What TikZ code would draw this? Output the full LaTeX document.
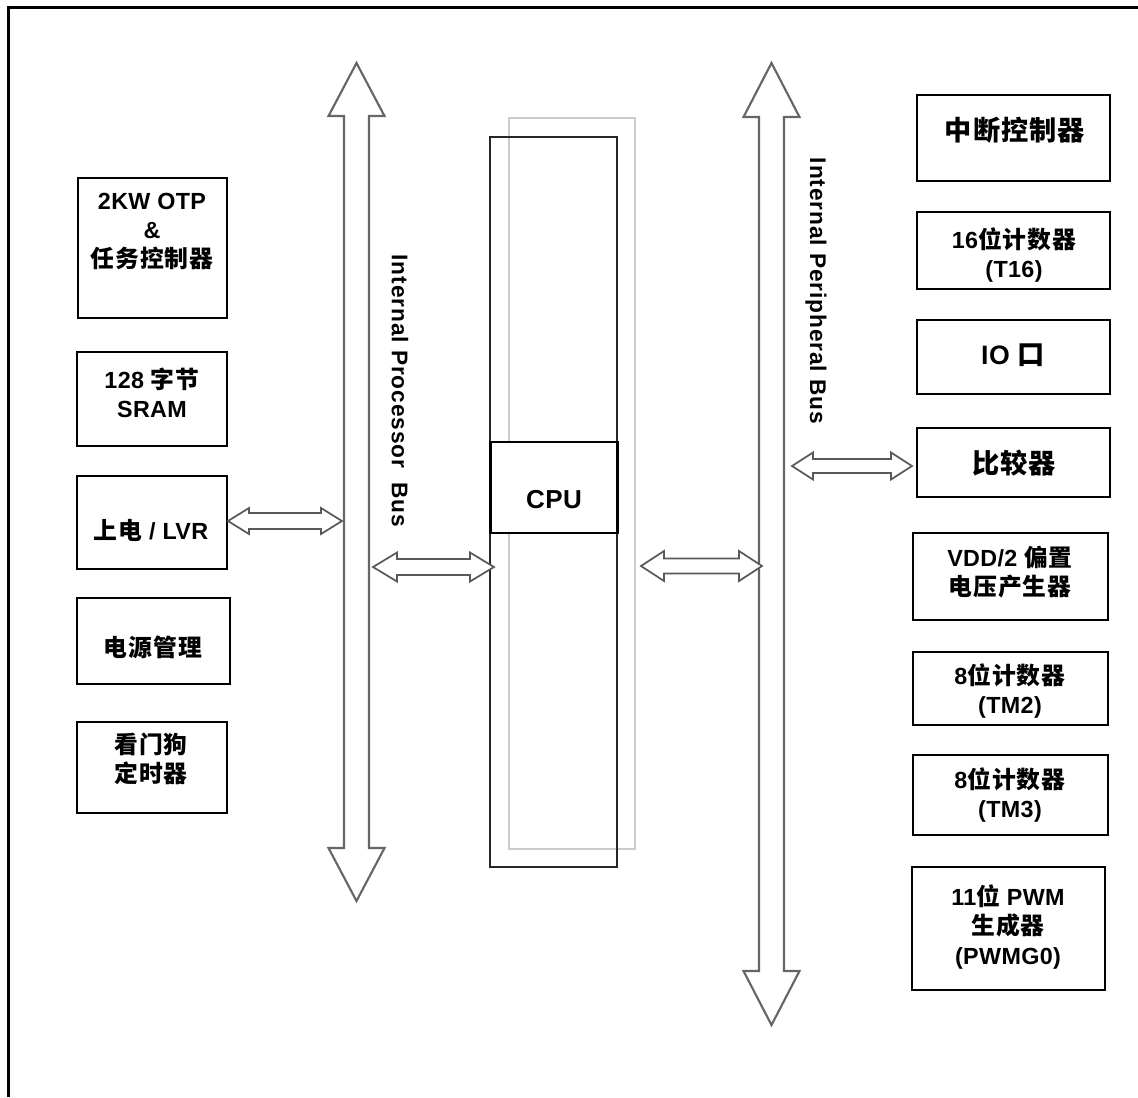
\documentclass[tikz,border=0pt]{standalone}
\usepackage{fontspec}
\setmainfont{Liberation Sans}[LetterSpace=1.5]
\newfontfamily\buslabelfont{Liberation Sans}[LetterSpace=4]
\newfontfamily\zhfont{Noto Sans CJK SC Bold}[Scale=1.02,LetterSpace=4]
\newcommand\zh[1]{{\zhfont #1}}
\begin{document}
\begin{tikzpicture}[x=0.75pt,y=-0.75pt,
  frame/.style={draw=black,line width=2pt},
  box/.style={draw=black,line width=2.2pt,fill=white,inner sep=0pt},
  txt/.style={align=center,inner sep=0pt,font=\fontsize{17.5pt}{22pt}\selectfont\bfseries},
  bigtxt/.style={align=center,inner sep=0pt,font=\fontsize{20pt}{22pt}\selectfont\bfseries},
  cputxt/.style={inner sep=0pt,font=\fontsize{19.5pt}{22pt}\selectfont\bfseries},
  buslabel/.style={rotate=-90,inner sep=0pt,font=\buslabelfont\fontsize{17pt}{18pt}\selectfont\bfseries},
  busline/.style={draw=black!60,line width=1.6pt,fill=white,line join=miter},
  darrow/.style={draw=black!65,line width=1.3pt,fill=white,line join=miter},
  cpuouter/.style={draw=black!85,line width=1.5pt},
  cpushadow/.style={draw=black!20,line width=1.5pt}]
\useasboundingbox (0,0) rectangle (1138,1097);
% outer frame (only top and left visible)
\draw[frame] (8.5,1097) -- (8.5,7.5) -- (1138,7.5);

% horizontal double arrow: x1 x2 y headlen headhalf shafthalf
\newcommand\harrow[6]{%
  \draw[darrow] (#1,#3) -- ({#1+#4},{#3-#5}) -- ({#1+#4},{#3-#6}) -- ({#2-#4},{#3-#6})
    -- ({#2-#4},{#3-#5}) -- (#2,#3) -- ({#2-#4},{#3+#5}) -- ({#2-#4},{#3+#6})
    -- ({#1+#4},{#3+#6}) -- ({#1+#4},{#3+#5}) -- cycle;}
% vertical bus arrow: x y1 y2 headlen headhalf shafthalf
\newcommand\varrow[6]{%
  \draw[busline] (#1,#2) -- ({#1+#5},{#2+#4}) -- ({#1+#6},{#2+#4}) -- ({#1+#6},{#3-#4})
    -- ({#1+#5},{#3-#4}) -- (#1,#3) -- ({#1-#5},{#3-#4}) -- ({#1-#6},{#3-#4})
    -- ({#1-#6},{#2+#4}) -- ({#1-#5},{#2+#4}) -- cycle;}

% buses
\varrow{356.5}{63}{901}{53}{28}{12.5}
\varrow{771.5}{63}{1025}{54}{28}{12.5}
\node[buslabel] (ipb) at (400,391) {Internal Processor\ \ Bus};
\node[buslabel] (iperb) at (816,291) {Internal Peripheral Bus};

% CPU column
\draw[cpushadow] (509,118) rectangle (635,849);
\draw[cpuouter] (490,137) rectangle (617,867);
\node[box,minimum width=127*0.75pt,minimum height=91*0.75pt] (cpu) at (554,487.5) {};
\node[cputxt] (cpu-t) at (554,500) {CPU};

% left boxes
\node[box,minimum width=149*0.75pt,minimum height=140*0.75pt] (otp) at (152.5,248) {};
\node[txt] (otp-t) at (152,231.5) {2KW OTP\\\&\\\zh{任务控制器}};
\node[box,minimum width=150*0.75pt,minimum height=94*0.75pt] (sram) at (152,399) {};
\node[txt] (sram-t) at (152,392.5) {128 \zh{字节}\\SRAM};
\node[box,minimum width=150*0.75pt,minimum height=93*0.75pt] (lvr) at (152,522.5) {};
\node[txt] (lvr-t) at (151,530) {\zh{上电} / LVR};
\node[box,minimum width=153*0.75pt,minimum height=86*0.75pt] (pwr) at (153.5,641) {};
\node[txt] (pwr-t) at (153,647) {\zh{电源管理}};
\node[box,minimum width=150*0.75pt,minimum height=91*0.75pt] (wdt) at (152,767.5) {};
\node[txt] (wdt-t) at (151,759) {\zh{看门狗}\\\zh{定时器}};

% right boxes
\node[box,minimum width=193*0.75pt,minimum height=86*0.75pt] (intc) at (1013.5,138) {};
\node[bigtxt] (intc-t) at (1015,130) {\zh{中断控制器}};
\node[box,minimum width=193*0.75pt,minimum height=77*0.75pt] (t16) at (1013.5,250.5) {};
\node[txt] (t16-t) at (1014,255) {16\zh{位计数器}\\(T16)};
\node[box,minimum width=193*0.75pt,minimum height=74*0.75pt] (io) at (1013.5,357) {};
\node[bigtxt] (io-t) at (1013,355) {IO \zh{口}};
\node[box,minimum width=193*0.75pt,minimum height=69*0.75pt] (cmp) at (1013.5,462.5) {};
\node[bigtxt] (cmp-t) at (1014,463) {\zh{比较器}};
\node[box,minimum width=195*0.75pt,minimum height=87*0.75pt] (vdd) at (1010.5,576.5) {};
\node[txt] (vdd-t) at (1010,572) {VDD/2 \zh{偏置}\\\zh{电压产生器}};
\node[box,minimum width=195*0.75pt,minimum height=73*0.75pt] (tm2) at (1010.5,688.5) {};
\node[txt] (tm2-t) at (1010,691) {8\zh{位计数器}\\(TM2)};
\node[box,minimum width=195*0.75pt,minimum height=80*0.75pt] (tm3) at (1010.5,795) {};
\node[txt] (tm3-t) at (1010,795) {8\zh{位计数器}\\(TM3)};
\node[box,minimum width=193*0.75pt,minimum height=123*0.75pt] (pwm) at (1008.5,928.5) {};
\node[txt] (pwm-t) at (1008,927) {11\zh{位} PWM\\\zh{生成器}\\(PWMG0)};

% double arrows
\harrow{228}{342}{521}{21}{13}{8}
\harrow{373}{494}{567}{24}{14.5}{8}
\harrow{641}{762}{566}{23}{15}{7.5}
\harrow{792}{912}{466}{21}{13.5}{7}
\end{tikzpicture}
\end{document}
